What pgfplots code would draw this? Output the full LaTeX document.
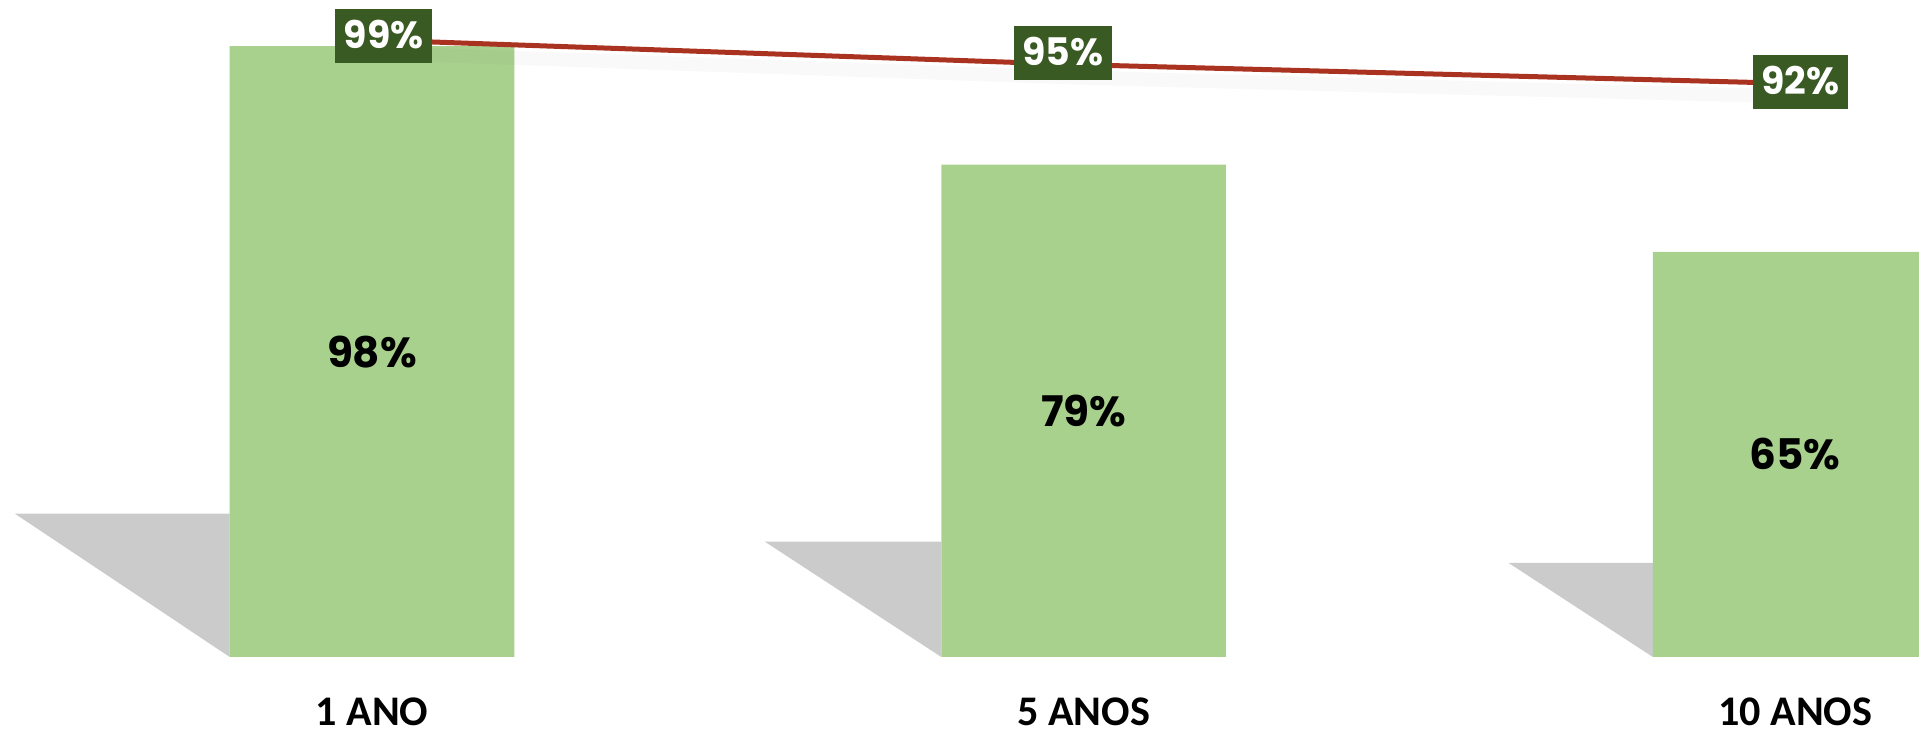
\documentclass[border=0pt]{standalone}
\usepackage{pgfplots}
\pgfplotsset{compat=1.18}
\usepackage{fontspec}
\setmainfont{Carlito}
\newfontfamily\fpop{Poppins}
\definecolor{barg}{HTML}{A9D18E}
\definecolor{boxg}{HTML}{3A5A24}
\definecolor{linered}{HTML}{A93220}
\definecolor{shad}{HTML}{CBCBCB}

\begin{document}
\begin{tikzpicture}
\begin{axis}[
    scale only axis,
    width=19.19cm, height=6.57cm,
    xmin=-0.5228, xmax=2.174,
    ymin=0, ymax=105.4,
    axis line style={draw=none},
    tick style={draw=none},
    ytick=\empty,
    xtick={0,1,2},
    xticklabels={1 ANO,5 ANOS,10 ANOS},
    xticklabel style={font=\fontsize{12}{14}\selectfont\bfseries, anchor=center, yshift=-0.55cm},
]
\coordinate (sw) at (rel axis cs:0,0);
\coordinate (ne) at (rel axis cs:1,1);

% shadows behind the bars
\addplot[fill=shad, draw=none, forget plot] coordinates {(-0.2,0) (-0.2,23) (-0.502,23)} -- cycle;
\addplot[fill=shad, draw=none, forget plot] coordinates {(0.8,0) (0.8,18.5) (0.552,18.5)} -- cycle;
\addplot[fill=shad, draw=none, forget plot] coordinates {(1.8,0) (1.8,15.1) (1.597,15.1)} -- cycle;

% bars
\addplot[ybar, bar width=0.4, fill=barg, draw=none,
    point meta=explicit symbolic,
    nodes near coords={\pgfplotspointmeta\%},
    visualization depends on=y \as \rawy,
    every node near coord/.append style={anchor=center, text=black,
        font=\fpop\bfseries\fontsize{12}{14}\selectfont,
        shift={(axis direction cs:0,-\rawy/2)}},
] coordinates {(0,98) [98] (1,79) [79] (2,65) [65]};

% faint shadow of the line
\addplot[black, opacity=0.025, line width=0.14cm, yshift=-0.13cm, forget plot]
    coordinates {(0,99) (1,95) (2,92)};

% line with boxed labels
\addplot[linered, line width=0.05cm, mark=none,
    point meta=explicit symbolic,
    nodes near coords={\pgfplotspointmeta\%},
    visualization depends on={\thisrow{dx} \as \dx},
    visualization depends on={\thisrow{dy} \as \dy},
    every node near coord/.append style={anchor=center, fill=boxg, text=white,
        font=\fpop\bfseries\fontsize{10.8}{13}\selectfont,
        inner xsep=0.085cm, inner ysep=0.14cm, text height=0.26cm, text depth=0cm,
        xshift=\dx cm, yshift=\dy cm},
] table[meta=y] {
x y dx dy
0 99 0.115 0.04
1 95 -0.21 0.12
2 92 0.05 0.02
};
\end{axis}
\pgfresetboundingbox
\path[use as bounding box] ([yshift=-0.74cm]sw) rectangle (ne);
\end{tikzpicture}
\end{document}
